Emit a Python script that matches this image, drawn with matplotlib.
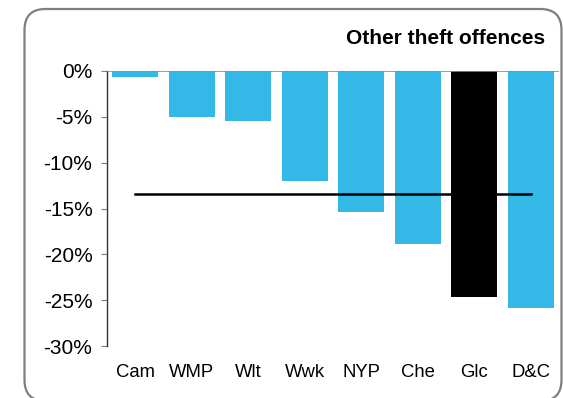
import matplotlib
matplotlib.use("Agg")
import matplotlib.pyplot as plt
from matplotlib.patches import FancyBboxPatch

categories = ["Cam", "WMP", "Wlt", "Wwk", "NYP", "Che", "Glc", "D&C"]
values = [-0.6, -5.0, -5.5, -12.0, -15.4, -18.9, -24.6, -25.9]
average = -13.4
highlight = "Glc"
yticks = [0, -5, -10, -15, -20, -25, -30]
ytick_labels = ["0%", "-5%", "-10%", "-15%", "-20%", "-25%", "-30%"]
title = "Other theft offences"

plt.rcParams['font.family'] = ['Liberation Sans', 'DejaVu Sans']

W, H = 563, 398
fig = plt.figure(figsize=(W / 100, H / 100), dpi=100)
radius_px = 21
border = FancyBboxPatch((24.5 / W, (H - 401) / H), 537 / W, (401 - 9) / H,
                        boxstyle=f"round,pad=0,rounding_size={radius_px / W}",
                        transform=fig.transFigure, facecolor="none",
                        edgecolor="#7f7f7f", linewidth=1.6, mutation_aspect=W / H)
fig.patches.append(border)

ax = fig.add_axes([107 / W, 1 - 346 / H, (559 - 107) / W, (346 - 71) / H])
ax.set_facecolor("none")
x = list(range(len(categories)))
colors = ["#000000" if c == highlight else "#33B8E8" for c in categories]
ax.bar(x, values, width=0.82, color=colors, zorder=2)
ax.plot([x[0], x[-1]], [average, average], color="black", linewidth=1.8, zorder=3)
ax.axhline(0, color="#8c8c8c", linewidth=1.2, zorder=4)

ax.set_xlim(-0.5, len(categories) - 0.5)
ax.set_ylim(-30, 0)
ax.set_yticks(yticks)
ax.set_yticklabels(ytick_labels, fontsize=15)
ax.set_xticks(x)
ax.set_xticklabels(categories, fontsize=13.3)
ax.tick_params(axis='x', length=0, pad=13)
ax.tick_params(axis='y', length=4.5, color="#7f7f7f", direction='out', pad=6)
for s in ["top", "right", "bottom"]:
    ax.spines[s].set_visible(False)
ax.spines["left"].set_color("#333333")
ax.spines["left"].set_linewidth(1.0)

fig.text(545 / W, 1 - 38.5 / H, title, ha="right", va="center",
         fontsize=15, fontweight="bold")

fig.savefig("out.png", dpi=100)
